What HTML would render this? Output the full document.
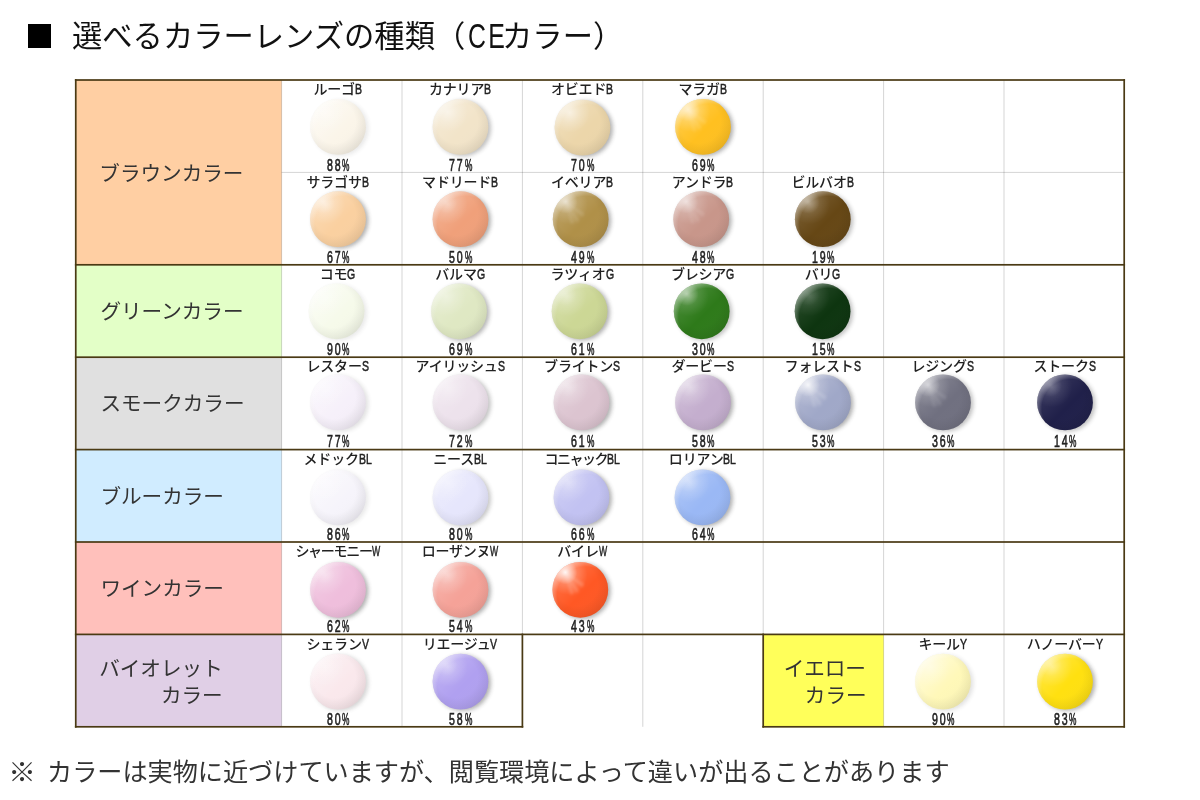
<!DOCTYPE html>
<html lang="ja"><head><meta charset="utf-8"><title>選べるカラーレンズの種類（CEカラー）</title>
<style>
html,body{margin:0;padding:0;background:#fff}
body{width:1200px;height:800px;position:relative;overflow:hidden;font-family:"Liberation Sans","Noto Sans CJK JP",sans-serif;color:#333}
.a{position:absolute}
svg{position:absolute;left:0;top:0}
.title{left:72px;top:12.6px;font-size:30.3px;line-height:44px;height:44px;color:#111;white-space:nowrap;display:flex;align-items:baseline}
.tl{display:inline-block;font-size:35.0px;line-height:44px;transform:scaleX(0.71);transform-origin:0 50%;white-space:nowrap;letter-spacing:3.2px}
.note{top:754.4px;font-size:25.15px;line-height:36px;color:#333;white-space:nowrap}
.cat{font-size:20.6px;line-height:30px;height:30px;color:#333;white-space:nowrap}
.nm{font-size:14px;letter-spacing:-.2px;line-height:18px;height:18px;white-space:nowrap;color:#222;display:flex;justify-content:center;align-items:baseline;width:140px;font-weight:500}
.l{display:inline-block;font-size:15.5px;line-height:18px;transform:scaleX(0.68);transform-origin:0 50%;white-space:nowrap;font-weight:400;-webkit-text-stroke:.5px #222;letter-spacing:0}
.pc{font-size:16.0px;line-height:16px;height:16px;white-space:nowrap;color:#222;display:flex;width:60px;justify-content:center}
.pc span{display:inline-block}
.pd{letter-spacing:2.9px;transform:scaleX(0.66);transform-origin:0 50%;-webkit-text-stroke:.65px #222}
.pp{transform:scaleX(0.52);transform-origin:0 50%;-webkit-text-stroke:.6px #222}

</style></head><body>
<svg width="1200" height="800" viewBox="0 0 1200 800">
<defs>
<filter id="sh" x="-20%" y="-20%" width="140%" height="140%"><feGaussianBlur stdDeviation="1.9"/></filter>
<filter id="b1" x="-50%" y="-50%" width="200%" height="200%"><feGaussianBlur stdDeviation="1.4"/></filter>
<radialGradient id="hl" cx=".27" cy=".23" r=".36"><stop offset="0" stop-color="#fff" stop-opacity=".75"/><stop offset=".5" stop-color="#fff" stop-opacity=".3"/><stop offset="1" stop-color="#fff" stop-opacity="0"/></radialGradient>
<radialGradient id="ed" cx=".44" cy=".42" r=".62"><stop offset=".6" stop-color="#000" stop-opacity="0"/><stop offset="1" stop-color="#000" stop-opacity=".075"/></radialGradient>
<linearGradient id="lg" x1="0" y1="0" x2="1" y2="1"><stop offset="0" stop-color="#fff" stop-opacity=".3"/><stop offset=".55" stop-color="#fff" stop-opacity="0"/><stop offset="1" stop-color="#000" stop-opacity=".07"/></linearGradient>
<radialGradient id="fl" cx=".5" cy=".5" r=".5"><stop offset="0" stop-color="#fff" stop-opacity="1"/><stop offset=".35" stop-color="#fff" stop-opacity=".55"/><stop offset="1" stop-color="#fff" stop-opacity="0"/></radialGradient>
<radialGradient id="rl" cx=".6" cy=".6" r=".64"><stop offset=".8" stop-color="#fff" stop-opacity="0"/><stop offset="1" stop-color="#fff" stop-opacity=".4"/></radialGradient>
<linearGradient id="lw" x1="0" y1="0" x2="1" y2="1"><stop offset="0" stop-color="#fff" stop-opacity=".75"/><stop offset=".6" stop-color="#fff" stop-opacity="0"/></linearGradient>
<clipPath id="cl"><circle r="28"/></clipPath>
</defs>
<rect x="75.75" y="80.0" width="205.85" height="184.80" fill="#ffcfa3"/>
<rect x="75.75" y="264.8" width="205.85" height="92.40" fill="#e3ffc7"/>
<rect x="75.75" y="357.20000000000005" width="205.85" height="92.40" fill="#e0e0e0"/>
<rect x="75.75" y="449.6" width="205.85" height="92.40" fill="#d0ecff"/>
<rect x="75.75" y="542.0" width="205.85" height="92.40" fill="#ffc0bb"/>
<rect x="75.75" y="634.4000000000001" width="205.85" height="92.40" fill="#e0cfe6"/>
<rect x="763.20" y="634.4000000000001" width="120.40" height="92.40" fill="#ffff5a"/>
<rect x="281.10" y="80.0" width="1" height="646.80" fill="rgba(0,0,0,.17)"/>
<rect x="401.50" y="80.0" width="1" height="646.80" fill="rgba(0,0,0,.17)"/>
<rect x="521.90" y="80.0" width="1" height="646.80" fill="rgba(0,0,0,.17)"/>
<rect x="642.30" y="80.0" width="1" height="646.80" fill="rgba(0,0,0,.17)"/>
<rect x="762.70" y="80.0" width="1" height="646.80" fill="rgba(0,0,0,.17)"/>
<rect x="883.10" y="80.0" width="1" height="646.80" fill="rgba(0,0,0,.17)"/>
<rect x="1003.50" y="80.0" width="1" height="646.80" fill="rgba(0,0,0,.17)"/>
<rect x="281.6" y="171.90" width="842.80" height="1" fill="rgba(0,0,0,.17)"/>
<rect x="74.90" y="79.15" width="1050.15" height="1.7" fill="#4a3a14"/>
<rect x="74.90" y="263.95" width="1050.15" height="1.7" fill="#4a3a14"/>
<rect x="74.90" y="356.35" width="1050.15" height="1.7" fill="#4a3a14"/>
<rect x="74.90" y="448.75" width="1050.15" height="1.7" fill="#4a3a14"/>
<rect x="74.90" y="541.15" width="1050.15" height="1.7" fill="#4a3a14"/>
<rect x="74.90" y="633.55" width="1050.15" height="1.7" fill="#4a3a14"/>
<rect x="74.90" y="725.95" width="448.35" height="1.7" fill="#4a3a14"/>
<rect x="762.35" y="725.95" width="362.70" height="1.7" fill="#4a3a14"/>
<rect x="74.90" y="79.15" width="1.7" height="648.50" fill="#4a3a14"/>
<rect x="1123.35" y="79.15" width="1.7" height="648.50" fill="#4a3a14"/>
<rect x="521.55" y="633.55" width="1.7" height="94.10" fill="#4a3a14"/>
<rect x="762.35" y="633.55" width="1.7" height="94.10" fill="#4a3a14"/>
<g transform="translate(338,126.9)">
<circle cx="2.5" cy="1.3" r="27.9" fill="#333" opacity="0.10" filter="url(#sh)"/>
<circle r="27.9" fill="#fbf5e9"/>
<circle r="27.9" fill="url(#lg)" opacity="0.98"/>
<circle r="27.9" fill="url(#ed)"/>
<circle r="27.9" fill="url(#rl)"/>
<circle r="27.9" fill="url(#lw)" opacity="0.62"/>
<circle r="27.9" fill="url(#hl)" opacity="0.5"/>
</g>
<g transform="translate(460.5,126.9)">
<circle cx="2.5" cy="1.3" r="27.9" fill="#333" opacity="0.31" filter="url(#sh)"/>
<circle r="27.9" fill="#f2e4c9"/>
<circle r="27.9" fill="url(#lg)" opacity="0.94"/>
<circle r="27.9" fill="url(#ed)"/>
<circle r="27.9" fill="url(#rl)"/>
<circle r="27.9" fill="url(#hl)" opacity="0.7"/>
</g>
<g transform="translate(582.5,127.6)">
<circle cx="2.5" cy="1.3" r="27.9" fill="#333" opacity="0.38" filter="url(#sh)"/>
<circle r="27.9" fill="#ecd6aa"/>
<circle r="27.9" fill="url(#lg)" opacity="0.91"/>
<circle r="27.9" fill="url(#ed)"/>
<circle r="27.9" fill="url(#rl)"/>
<circle r="27.9" fill="url(#hl)" opacity="0.8"/>
</g>
<g transform="translate(703,126.9)">
<circle cx="2.5" cy="1.3" r="27.9" fill="#333" opacity="0.38" filter="url(#sh)"/>
<circle r="27.9" fill="#ffc020"/>
<circle r="27.9" fill="url(#lg)" opacity="0.85"/>
<circle r="27.9" fill="url(#ed)"/>
<circle r="27.9" fill="url(#rl)"/>
<circle r="27.9" fill="url(#hl)" opacity="0.6"/>
<g clip-path="url(#cl)"><g fill="#fff" opacity="0.10" filter="url(#b1)"><path d="M-15,-17 L4,-6 L2,-2 Z"/><path d="M-15,-17 L-6,4 L-10,5 Z"/><path d="M-15,-17 L-1,1 L-4,4 Z"/></g><circle cx="-15" cy="-17.5" r="12" fill="url(#fl)" opacity="0.5"/></g>
</g>
<g transform="translate(338,219.2)">
<circle cx="2.5" cy="1.3" r="27.9" fill="#333" opacity="0.38" filter="url(#sh)"/>
<circle r="27.9" fill="#fad0a0"/>
<circle r="27.9" fill="url(#lg)" opacity="0.91"/>
<circle r="27.9" fill="url(#ed)"/>
<circle r="27.9" fill="url(#rl)"/>
<circle r="27.9" fill="url(#hl)" opacity="0.6"/>
<g clip-path="url(#cl)"><circle cx="-15" cy="-17.5" r="12" fill="url(#fl)" opacity="0.3"/></g>
</g>
<g transform="translate(460.5,219.2)">
<circle cx="2.5" cy="1.3" r="27.9" fill="#333" opacity="0.38" filter="url(#sh)"/>
<circle r="27.9" fill="#f0a07a"/>
<circle r="27.9" fill="url(#lg)" opacity="0.82"/>
<circle r="27.9" fill="url(#ed)"/>
<circle r="27.9" fill="url(#rl)"/>
<circle r="27.9" fill="url(#hl)" opacity="0.5"/>
<g clip-path="url(#cl)"><circle cx="-15" cy="-17.5" r="12" fill="url(#fl)" opacity="0.2"/></g>
</g>
<g transform="translate(580.7,219.2)">
<circle cx="2.5" cy="1.3" r="27.9" fill="#333" opacity="0.38" filter="url(#sh)"/>
<circle r="27.9" fill="#b09048"/>
<circle r="27.9" fill="url(#lg)" opacity="0.74"/>
<circle r="27.9" fill="url(#ed)"/>
<circle r="27.9" fill="url(#rl)"/>
<circle r="27.9" fill="url(#hl)" opacity="0.4"/>
<g clip-path="url(#cl)"><g fill="#fff" opacity="0.11" filter="url(#b1)"><path d="M-15,-17 L4,-6 L2,-2 Z"/><path d="M-15,-17 L-6,4 L-10,5 Z"/><path d="M-15,-17 L-1,1 L-4,4 Z"/></g><circle cx="-15" cy="-17.5" r="12" fill="url(#fl)" opacity="0.55"/></g>
</g>
<g transform="translate(701.2,219.2)">
<circle cx="2.5" cy="1.3" r="27.9" fill="#333" opacity="0.38" filter="url(#sh)"/>
<circle r="27.9" fill="#c8968a"/>
<circle r="27.9" fill="url(#lg)" opacity="0.78"/>
<circle r="27.9" fill="url(#ed)"/>
<circle r="27.9" fill="url(#rl)"/>
<circle r="27.9" fill="url(#hl)" opacity="0.4"/>
<g clip-path="url(#cl)"><g fill="#fff" opacity="0.10" filter="url(#b1)"><path d="M-15,-17 L4,-6 L2,-2 Z"/><path d="M-15,-17 L-6,4 L-10,5 Z"/><path d="M-15,-17 L-1,1 L-4,4 Z"/></g><circle cx="-15" cy="-17.5" r="12" fill="url(#fl)" opacity="0.5"/></g>
</g>
<g transform="translate(822.8,219.2)">
<circle cx="2.5" cy="1.3" r="27.9" fill="#333" opacity="0.30" filter="url(#sh)"/>
<circle r="27.9" fill="#664715"/>
<circle r="27.9" fill="url(#lg)" opacity="0.58"/>
<circle r="27.9" fill="url(#ed)"/>
<circle r="27.9" fill="url(#rl)"/>
<circle r="27.9" fill="url(#hl)" opacity="0.3"/>
<g clip-path="url(#cl)"><circle cx="-15" cy="-17.5" r="12" fill="url(#fl)" opacity="0.35"/></g>
</g>
<g transform="translate(336.6,311.3)">
<circle cx="2.5" cy="1.3" r="27.9" fill="#333" opacity="0.10" filter="url(#sh)"/>
<circle r="27.9" fill="#f6faea"/>
<circle r="27.9" fill="url(#lg)" opacity="0.98"/>
<circle r="27.9" fill="url(#ed)"/>
<circle r="27.9" fill="url(#rl)"/>
<circle r="27.9" fill="url(#lw)" opacity="0.69"/>
<circle r="27.9" fill="url(#hl)" opacity="0.5"/>
</g>
<g transform="translate(459.0,311.3)">
<circle cx="2.5" cy="1.3" r="27.9" fill="#333" opacity="0.36" filter="url(#sh)"/>
<circle r="27.9" fill="#dfe8c3"/>
<circle r="27.9" fill="url(#lg)" opacity="0.93"/>
<circle r="27.9" fill="url(#ed)"/>
<circle r="27.9" fill="url(#rl)"/>
<circle r="27.9" fill="url(#hl)" opacity="0.5"/>
</g>
<g transform="translate(579.6,311.3)">
<circle cx="2.5" cy="1.3" r="27.9" fill="#333" opacity="0.38" filter="url(#sh)"/>
<circle r="27.9" fill="#ccd795"/>
<circle r="27.9" fill="url(#lg)" opacity="0.88"/>
<circle r="27.9" fill="url(#ed)"/>
<circle r="27.9" fill="url(#rl)"/>
<circle r="27.9" fill="url(#hl)" opacity="0.5"/>
<g clip-path="url(#cl)"><circle cx="-15" cy="-17.5" r="12" fill="url(#fl)" opacity="0.2"/></g>
</g>
<g transform="translate(701.7,311.3)">
<circle cx="2.5" cy="1.3" r="27.9" fill="#333" opacity="0.30" filter="url(#sh)"/>
<circle r="27.9" fill="#2e7a1a"/>
<circle r="27.9" fill="url(#lg)" opacity="0.61"/>
<circle r="27.9" fill="url(#ed)"/>
<circle r="27.9" fill="url(#rl)"/>
<circle r="27.9" fill="url(#hl)" opacity="0.3"/>
<g clip-path="url(#cl)"><circle cx="-15" cy="-17.5" r="12" fill="url(#fl)" opacity="0.45"/></g>
</g>
<g transform="translate(822.6,311.3)">
<circle cx="2.5" cy="1.3" r="27.9" fill="#333" opacity="0.30" filter="url(#sh)"/>
<circle r="27.9" fill="#0e3510"/>
<circle r="27.9" fill="url(#lg)" opacity="0.49"/>
<circle r="27.9" fill="url(#ed)"/>
<circle r="27.9" fill="url(#rl)"/>
<circle r="27.9" fill="url(#hl)" opacity="0.25"/>
<g clip-path="url(#cl)"><circle cx="-15" cy="-17.5" r="12" fill="url(#fl)" opacity="0.1"/></g>
</g>
<g transform="translate(338,402.4)">
<circle cx="2.5" cy="1.3" r="27.9" fill="#333" opacity="0.14" filter="url(#sh)"/>
<circle r="27.9" fill="#f6f0fa"/>
<circle r="27.9" fill="url(#lg)" opacity="0.97"/>
<circle r="27.9" fill="url(#ed)"/>
<circle r="27.9" fill="url(#rl)"/>
<circle r="27.9" fill="url(#lw)" opacity="0.53"/>
<circle r="27.9" fill="url(#hl)" opacity="0.5"/>
</g>
<g transform="translate(460.5,402.4)">
<circle cx="2.5" cy="1.3" r="27.9" fill="#333" opacity="0.29" filter="url(#sh)"/>
<circle r="27.9" fill="#ede2ec"/>
<circle r="27.9" fill="url(#lg)" opacity="0.94"/>
<circle r="27.9" fill="url(#ed)"/>
<circle r="27.9" fill="url(#rl)"/>
<circle r="27.9" fill="url(#lw)" opacity="0.04"/>
<circle r="27.9" fill="url(#hl)" opacity="0.5"/>
</g>
<g transform="translate(581.5,402.4)">
<circle cx="2.5" cy="1.3" r="27.9" fill="#333" opacity="0.38" filter="url(#sh)"/>
<circle r="27.9" fill="#dcc4d0"/>
<circle r="27.9" fill="url(#lg)" opacity="0.88"/>
<circle r="27.9" fill="url(#ed)"/>
<circle r="27.9" fill="url(#rl)"/>
<circle r="27.9" fill="url(#hl)" opacity="0.5"/>
<g clip-path="url(#cl)"><circle cx="-15" cy="-17.5" r="12" fill="url(#fl)" opacity="0.2"/></g>
</g>
<g transform="translate(703,402.4)">
<circle cx="2.5" cy="1.3" r="27.9" fill="#333" opacity="0.38" filter="url(#sh)"/>
<circle r="27.9" fill="#c4aece"/>
<circle r="27.9" fill="url(#lg)" opacity="0.83"/>
<circle r="27.9" fill="url(#ed)"/>
<circle r="27.9" fill="url(#rl)"/>
<circle r="27.9" fill="url(#hl)" opacity="0.5"/>
<g clip-path="url(#cl)"><circle cx="-15" cy="-17.5" r="12" fill="url(#fl)" opacity="0.2"/></g>
</g>
<g transform="translate(823,402.4)">
<circle cx="2.5" cy="1.3" r="27.9" fill="#333" opacity="0.38" filter="url(#sh)"/>
<circle r="27.9" fill="#a0a8c8"/>
<circle r="27.9" fill="url(#lg)" opacity="0.80"/>
<circle r="27.9" fill="url(#ed)"/>
<circle r="27.9" fill="url(#rl)"/>
<circle r="27.9" fill="url(#hl)" opacity="0.5"/>
<g clip-path="url(#cl)"><g fill="#fff" opacity="0.16" filter="url(#b1)"><path d="M-15,-17 L4,-6 L2,-2 Z"/><path d="M-15,-17 L-6,4 L-10,5 Z"/><path d="M-15,-17 L-1,1 L-4,4 Z"/></g><circle cx="-15" cy="-17.5" r="12" fill="url(#fl)" opacity="0.8"/></g>
</g>
<g transform="translate(943,402.4)">
<circle cx="2.5" cy="1.3" r="27.9" fill="#333" opacity="0.30" filter="url(#sh)"/>
<circle r="27.9" fill="#707080"/>
<circle r="27.9" fill="url(#lg)" opacity="0.67"/>
<circle r="27.9" fill="url(#ed)"/>
<circle r="27.9" fill="url(#rl)"/>
<circle r="27.9" fill="url(#hl)" opacity="0.4"/>
<g clip-path="url(#cl)"><g fill="#fff" opacity="0.10" filter="url(#b1)"><path d="M-15,-17 L4,-6 L2,-2 Z"/><path d="M-15,-17 L-6,4 L-10,5 Z"/><path d="M-15,-17 L-1,1 L-4,4 Z"/></g><circle cx="-15" cy="-17.5" r="12" fill="url(#fl)" opacity="0.5"/></g>
</g>
<g transform="translate(1065,402.4)">
<circle cx="2.5" cy="1.3" r="27.9" fill="#333" opacity="0.30" filter="url(#sh)"/>
<circle r="27.9" fill="#20204a"/>
<circle r="27.9" fill="url(#lg)" opacity="0.49"/>
<circle r="27.9" fill="url(#ed)"/>
<circle r="27.9" fill="url(#rl)"/>
<circle r="27.9" fill="url(#hl)" opacity="0.25"/>
<g clip-path="url(#cl)"><circle cx="-15" cy="-17.5" r="12" fill="url(#fl)" opacity="0.2"/></g>
</g>
<g transform="translate(338,497.4)">
<circle cx="2.5" cy="1.3" r="27.9" fill="#333" opacity="0.10" filter="url(#sh)"/>
<circle r="27.9" fill="#f6f4fb"/>
<circle r="27.9" fill="url(#lg)" opacity="0.98"/>
<circle r="27.9" fill="url(#ed)"/>
<circle r="27.9" fill="url(#rl)"/>
<circle r="27.9" fill="url(#lw)" opacity="0.62"/>
<circle r="27.9" fill="url(#hl)" opacity="0.5"/>
</g>
<g transform="translate(460.5,497.4)">
<circle cx="2.5" cy="1.3" r="27.9" fill="#333" opacity="0.27" filter="url(#sh)"/>
<circle r="27.9" fill="#e6e6fc"/>
<circle r="27.9" fill="url(#lg)" opacity="0.95"/>
<circle r="27.9" fill="url(#ed)"/>
<circle r="27.9" fill="url(#rl)"/>
<circle r="27.9" fill="url(#lw)" opacity="0.12"/>
<circle r="27.9" fill="url(#hl)" opacity="0.5"/>
</g>
<g transform="translate(581.5,497.4)">
<circle cx="2.5" cy="1.3" r="27.9" fill="#333" opacity="0.38" filter="url(#sh)"/>
<circle r="27.9" fill="#c2c2f2"/>
<circle r="27.9" fill="url(#lg)" opacity="0.87"/>
<circle r="27.9" fill="url(#ed)"/>
<circle r="27.9" fill="url(#rl)"/>
<circle r="27.9" fill="url(#hl)" opacity="0.5"/>
<g clip-path="url(#cl)"><circle cx="-15" cy="-17.5" r="12" fill="url(#fl)" opacity="0.1"/></g>
</g>
<g transform="translate(702.5,497.4)">
<circle cx="2.5" cy="1.3" r="27.9" fill="#333" opacity="0.38" filter="url(#sh)"/>
<circle r="27.9" fill="#9ab8f5"/>
<circle r="27.9" fill="url(#lg)" opacity="0.83"/>
<circle r="27.9" fill="url(#ed)"/>
<circle r="27.9" fill="url(#rl)"/>
<circle r="27.9" fill="url(#hl)" opacity="0.5"/>
<g clip-path="url(#cl)"><circle cx="-15" cy="-17.5" r="12" fill="url(#fl)" opacity="0.2"/></g>
</g>
<g transform="translate(338,589.8)">
<circle cx="2.5" cy="1.3" r="27.9" fill="#333" opacity="0.38" filter="url(#sh)"/>
<circle r="27.9" fill="#efbedc"/>
<circle r="27.9" fill="url(#lg)" opacity="0.89"/>
<circle r="27.9" fill="url(#ed)"/>
<circle r="27.9" fill="url(#rl)"/>
<circle r="27.9" fill="url(#hl)" opacity="0.5"/>
<g clip-path="url(#cl)"><circle cx="-15" cy="-17.5" r="12" fill="url(#fl)" opacity="0.2"/></g>
</g>
<g transform="translate(460.5,589.8)">
<circle cx="2.5" cy="1.3" r="27.9" fill="#333" opacity="0.38" filter="url(#sh)"/>
<circle r="27.9" fill="#f5a298"/>
<circle r="27.9" fill="url(#lg)" opacity="0.84"/>
<circle r="27.9" fill="url(#ed)"/>
<circle r="27.9" fill="url(#rl)"/>
<circle r="27.9" fill="url(#hl)" opacity="0.5"/>
<g clip-path="url(#cl)"><circle cx="-15" cy="-17.5" r="12" fill="url(#fl)" opacity="0.2"/></g>
</g>
<g transform="translate(580.3,589.8)">
<circle cx="2.5" cy="1.3" r="27.9" fill="#333" opacity="0.38" filter="url(#sh)"/>
<circle r="27.9" fill="#ff5824"/>
<circle r="27.9" fill="url(#lg)" opacity="0.71"/>
<circle r="27.9" fill="url(#ed)"/>
<circle r="27.9" fill="url(#rl)"/>
<circle r="27.9" fill="url(#hl)" opacity="0.6"/>
<g clip-path="url(#cl)"><g fill="#fff" opacity="0.18" filter="url(#b1)"><path d="M-15,-17 L4,-6 L2,-2 Z"/><path d="M-15,-17 L-6,4 L-10,5 Z"/><path d="M-15,-17 L-1,1 L-4,4 Z"/></g><circle cx="-15" cy="-17.5" r="12" fill="url(#fl)" opacity="0.9"/></g>
</g>
<g transform="translate(338,681.6)">
<circle cx="2.5" cy="1.3" r="27.9" fill="#333" opacity="0.20" filter="url(#sh)"/>
<circle r="27.9" fill="#fae8ec"/>
<circle r="27.9" fill="url(#lg)" opacity="0.96"/>
<circle r="27.9" fill="url(#ed)"/>
<circle r="27.9" fill="url(#rl)"/>
<circle r="27.9" fill="url(#lw)" opacity="0.33"/>
<circle r="27.9" fill="url(#hl)" opacity="0.5"/>
</g>
<g transform="translate(460.5,681.6)">
<circle cx="2.5" cy="1.3" r="27.9" fill="#333" opacity="0.38" filter="url(#sh)"/>
<circle r="27.9" fill="#b0a0f0"/>
<circle r="27.9" fill="url(#lg)" opacity="0.81"/>
<circle r="27.9" fill="url(#ed)"/>
<circle r="27.9" fill="url(#rl)"/>
<circle r="27.9" fill="url(#hl)" opacity="0.5"/>
<g clip-path="url(#cl)"><circle cx="-15" cy="-17.5" r="12" fill="url(#fl)" opacity="0.2"/></g>
</g>
<g transform="translate(943,681.6)">
<circle cx="2.5" cy="1.3" r="27.9" fill="#333" opacity="0.14" filter="url(#sh)"/>
<circle r="27.9" fill="#fff8b8"/>
<circle r="27.9" fill="url(#lg)" opacity="0.97"/>
<circle r="27.9" fill="url(#ed)"/>
<circle r="27.9" fill="url(#rl)"/>
<circle r="27.9" fill="url(#lw)" opacity="0.52"/>
<circle r="27.9" fill="url(#hl)" opacity="0.5"/>
</g>
<g transform="translate(1065,681.6)">
<circle cx="2.5" cy="1.3" r="27.9" fill="#333" opacity="0.38" filter="url(#sh)"/>
<circle r="27.9" fill="#ffe010"/>
<circle r="27.9" fill="url(#lg)" opacity="0.89"/>
<circle r="27.9" fill="url(#ed)"/>
<circle r="27.9" fill="url(#rl)"/>
<circle r="27.9" fill="url(#hl)" opacity="0.5"/>
<g clip-path="url(#cl)"><circle cx="-15" cy="-17.5" r="12" fill="url(#fl)" opacity="0.2"/></g>
</g>
</svg>
<div class="a" style="left:27.5px;top:24.3px;width:23.5px;height:23.9px;background:#000"></div>
<div class="a title">選べるカラーレンズの種類（<span style="display:inline-block;width:34.3px;margin-left:2.5px;position:relative;top:1.2px"><span class="tl">CE</span></span>カラー）</div>
<div class="a cat" style="left:99.3px;top:159.0px">ブラウンカラー</div>
<div class="a cat" style="left:100.4px;top:297.0px">グリーンカラー</div>
<div class="a cat" style="left:100.4px;top:389.4px">スモークカラー</div>
<div class="a cat" style="left:100.4px;top:481.8px">ブルーカラー</div>
<div class="a cat" style="left:100.4px;top:574.2px">ワインカラー</div>
<div class="a cat" style="left:99.2px;top:654.0px">バイオレット</div>
<div class="a cat" style="left:160.9px;top:681.3px">カラー</div>
<div class="a cat" style="left:783.8px;top:653.6px">イエロー</div>
<div class="a cat" style="left:804.8px;top:681.3px">カラー</div>
<div class="a nm" style="left:267.6px;top:80.1px"><span>ルーゴ</span><span style="display:inline-block;width:7.0px"><span class="l">B</span></span></div>
<div class="a pc" style="left:308.2px;top:157.55px"><span style="width:15.3px"><span class="pd">88</span></span><span style="width:7.4px"><span class="pp">%</span></span></div>
<div class="a nm" style="left:390.1px;top:80.1px"><span>カナリア</span><span style="display:inline-block;width:7.0px"><span class="l">B</span></span></div>
<div class="a pc" style="left:430.7px;top:157.55px"><span style="width:15.3px"><span class="pd">77</span></span><span style="width:7.4px"><span class="pp">%</span></span></div>
<div class="a nm" style="left:512.1px;top:80.1px"><span>オビエド</span><span style="display:inline-block;width:7.0px"><span class="l">B</span></span></div>
<div class="a pc" style="left:552.7px;top:157.55px"><span style="width:15.3px"><span class="pd">70</span></span><span style="width:7.4px"><span class="pp">%</span></span></div>
<div class="a nm" style="left:632.6px;top:80.1px"><span>マラガ</span><span style="display:inline-block;width:7.0px"><span class="l">B</span></span></div>
<div class="a pc" style="left:673.2px;top:157.55px"><span style="width:15.3px"><span class="pd">69</span></span><span style="width:7.4px"><span class="pp">%</span></span></div>
<div class="a nm" style="left:267.6px;top:172.5px"><span>サラゴサ</span><span style="display:inline-block;width:7.0px"><span class="l">B</span></span></div>
<div class="a pc" style="left:308.2px;top:249.65px"><span style="width:15.3px"><span class="pd">67</span></span><span style="width:7.4px"><span class="pp">%</span></span></div>
<div class="a nm" style="left:390.1px;top:172.5px"><span>マドリード</span><span style="display:inline-block;width:7.0px"><span class="l">B</span></span></div>
<div class="a pc" style="left:430.7px;top:249.65px"><span style="width:15.3px"><span class="pd">50</span></span><span style="width:7.4px"><span class="pp">%</span></span></div>
<div class="a nm" style="left:512.1px;top:172.5px"><span>イベリア</span><span style="display:inline-block;width:7.0px"><span class="l">B</span></span></div>
<div class="a pc" style="left:552.7px;top:249.65px"><span style="width:15.3px"><span class="pd">49</span></span><span style="width:7.4px"><span class="pp">%</span></span></div>
<div class="a nm" style="left:632.6px;top:172.5px"><span>アンドラ</span><span style="display:inline-block;width:7.0px"><span class="l">B</span></span></div>
<div class="a pc" style="left:673.2px;top:249.65px"><span style="width:15.3px"><span class="pd">48</span></span><span style="width:7.4px"><span class="pp">%</span></span></div>
<div class="a nm" style="left:752.6px;top:172.5px"><span>ビルバオ</span><span style="display:inline-block;width:7.0px"><span class="l">B</span></span></div>
<div class="a pc" style="left:793.2px;top:249.65px"><span style="width:15.3px"><span class="pd">19</span></span><span style="width:7.4px"><span class="pp">%</span></span></div>
<div class="a nm" style="left:267.6px;top:264.9px"><span>コモ</span><span style="display:inline-block;width:8.2px"><span class="l">G</span></span></div>
<div class="a pc" style="left:308.2px;top:342.05px"><span style="width:15.3px"><span class="pd">90</span></span><span style="width:7.4px"><span class="pp">%</span></span></div>
<div class="a nm" style="left:390.1px;top:264.9px"><span>バルマ</span><span style="display:inline-block;width:8.2px"><span class="l">G</span></span></div>
<div class="a pc" style="left:430.7px;top:342.05px"><span style="width:15.3px"><span class="pd">69</span></span><span style="width:7.4px"><span class="pp">%</span></span></div>
<div class="a nm" style="left:512.1px;top:264.9px"><span>ラツィオ</span><span style="display:inline-block;width:8.2px"><span class="l">G</span></span></div>
<div class="a pc" style="left:552.7px;top:342.05px"><span style="width:15.3px"><span class="pd">61</span></span><span style="width:7.4px"><span class="pp">%</span></span></div>
<div class="a nm" style="left:632.6px;top:264.9px"><span>ブレシア</span><span style="display:inline-block;width:8.2px"><span class="l">G</span></span></div>
<div class="a pc" style="left:673.2px;top:342.05px"><span style="width:15.3px"><span class="pd">30</span></span><span style="width:7.4px"><span class="pp">%</span></span></div>
<div class="a nm" style="left:752.6px;top:264.9px"><span>バリ</span><span style="display:inline-block;width:8.2px"><span class="l">G</span></span></div>
<div class="a pc" style="left:793.2px;top:342.05px"><span style="width:15.3px"><span class="pd">15</span></span><span style="width:7.4px"><span class="pp">%</span></span></div>
<div class="a nm" style="left:267.6px;top:357.3px"><span>レスター</span><span style="display:inline-block;width:7.0px"><span class="l">S</span></span></div>
<div class="a pc" style="left:308.2px;top:433.75px"><span style="width:15.3px"><span class="pd">77</span></span><span style="width:7.4px"><span class="pp">%</span></span></div>
<div class="a nm" style="left:390.1px;top:357.3px"><span>アイリッシュ</span><span style="display:inline-block;width:7.0px"><span class="l">S</span></span></div>
<div class="a pc" style="left:430.7px;top:433.75px"><span style="width:15.3px"><span class="pd">72</span></span><span style="width:7.4px"><span class="pp">%</span></span></div>
<div class="a nm" style="left:512.1px;top:357.3px"><span>ブライトン</span><span style="display:inline-block;width:7.0px"><span class="l">S</span></span></div>
<div class="a pc" style="left:552.7px;top:433.75px"><span style="width:15.3px"><span class="pd">61</span></span><span style="width:7.4px"><span class="pp">%</span></span></div>
<div class="a nm" style="left:632.6px;top:357.3px"><span>ダービー</span><span style="display:inline-block;width:7.0px"><span class="l">S</span></span></div>
<div class="a pc" style="left:673.2px;top:433.75px"><span style="width:15.3px"><span class="pd">58</span></span><span style="width:7.4px"><span class="pp">%</span></span></div>
<div class="a nm" style="left:752.6px;top:357.3px"><span>フォレスト</span><span style="display:inline-block;width:7.0px"><span class="l">S</span></span></div>
<div class="a pc" style="left:793.2px;top:433.75px"><span style="width:15.3px"><span class="pd">53</span></span><span style="width:7.4px"><span class="pp">%</span></span></div>
<div class="a nm" style="left:872.6px;top:357.3px"><span>レジング</span><span style="display:inline-block;width:7.0px"><span class="l">S</span></span></div>
<div class="a pc" style="left:913.2px;top:433.75px"><span style="width:15.3px"><span class="pd">36</span></span><span style="width:7.4px"><span class="pp">%</span></span></div>
<div class="a nm" style="left:994.6px;top:357.3px"><span>ストーク</span><span style="display:inline-block;width:7.0px"><span class="l">S</span></span></div>
<div class="a pc" style="left:1035.2px;top:433.75px"><span style="width:15.3px"><span class="pd">14</span></span><span style="width:7.4px"><span class="pp">%</span></span></div>
<div class="a nm" style="left:267.6px;top:449.7px"><span>メドック</span><span style="display:inline-block;width:12.9px"><span class="l">BL</span></span></div>
<div class="a pc" style="left:308.2px;top:526.85px"><span style="width:15.3px"><span class="pd">86</span></span><span style="width:7.4px"><span class="pp">%</span></span></div>
<div class="a nm" style="left:390.1px;top:449.7px"><span>ニース</span><span style="display:inline-block;width:12.9px"><span class="l">BL</span></span></div>
<div class="a pc" style="left:430.7px;top:526.85px"><span style="width:15.3px"><span class="pd">80</span></span><span style="width:7.4px"><span class="pp">%</span></span></div>
<div class="a nm" style="left:512.1px;top:449.7px"><span style="letter-spacing:-1.5px">コニャック</span><span style="display:inline-block;width:12.9px"><span class="l">BL</span></span></div>
<div class="a pc" style="left:552.7px;top:526.85px"><span style="width:15.3px"><span class="pd">66</span></span><span style="width:7.4px"><span class="pp">%</span></span></div>
<div class="a nm" style="left:632.6px;top:449.7px"><span>ロリアン</span><span style="display:inline-block;width:12.9px"><span class="l">BL</span></span></div>
<div class="a pc" style="left:673.2px;top:526.85px"><span style="width:15.3px"><span class="pd">64</span></span><span style="width:7.4px"><span class="pp">%</span></span></div>
<div class="a nm" style="left:267.6px;top:542.1px"><span style="letter-spacing:-1.3px">シャーモニー</span><span style="display:inline-block;width:8.2px"><span class="l" style="transform:scaleX(0.56)">W</span></span></div>
<div class="a pc" style="left:308.2px;top:619.25px"><span style="width:15.3px"><span class="pd">62</span></span><span style="width:7.4px"><span class="pp">%</span></span></div>
<div class="a nm" style="left:390.1px;top:542.1px"><span>ローザンヌ</span><span style="display:inline-block;width:8.2px"><span class="l" style="transform:scaleX(0.56)">W</span></span></div>
<div class="a pc" style="left:430.7px;top:619.25px"><span style="width:15.3px"><span class="pd">54</span></span><span style="width:7.4px"><span class="pp">%</span></span></div>
<div class="a nm" style="left:512.1px;top:542.1px"><span>バイレ</span><span style="display:inline-block;width:8.2px"><span class="l" style="transform:scaleX(0.56)">W</span></span></div>
<div class="a pc" style="left:552.7px;top:619.25px"><span style="width:15.3px"><span class="pd">43</span></span><span style="width:7.4px"><span class="pp">%</span></span></div>
<div class="a nm" style="left:267.6px;top:634.5px"><span>シェラン</span><span style="display:inline-block;width:7.0px"><span class="l">V</span></span></div>
<div class="a pc" style="left:308.2px;top:711.65px"><span style="width:15.3px"><span class="pd">80</span></span><span style="width:7.4px"><span class="pp">%</span></span></div>
<div class="a nm" style="left:390.1px;top:634.5px"><span>リエージュ</span><span style="display:inline-block;width:7.0px"><span class="l">V</span></span></div>
<div class="a pc" style="left:430.7px;top:711.65px"><span style="width:15.3px"><span class="pd">58</span></span><span style="width:7.4px"><span class="pp">%</span></span></div>
<div class="a nm" style="left:872.6px;top:634.5px"><span>キール</span><span style="display:inline-block;width:7.0px"><span class="l">Y</span></span></div>
<div class="a pc" style="left:913.2px;top:711.65px"><span style="width:15.3px"><span class="pd">90</span></span><span style="width:7.4px"><span class="pp">%</span></span></div>
<div class="a nm" style="left:994.6px;top:634.5px"><span>ハノーバー</span><span style="display:inline-block;width:7.0px"><span class="l">Y</span></span></div>
<div class="a pc" style="left:1035.2px;top:711.65px"><span style="width:15.3px"><span class="pd">83</span></span><span style="width:7.4px"><span class="pp">%</span></span></div>
<div class="a note" style="left:8.2px;font-size:27.6px;top:755px">※</div>
<div class="a note" style="left:47px">カラーは実物に近づけていますが、閲覧環境によって違いが出ることがあります</div>
</body></html>
